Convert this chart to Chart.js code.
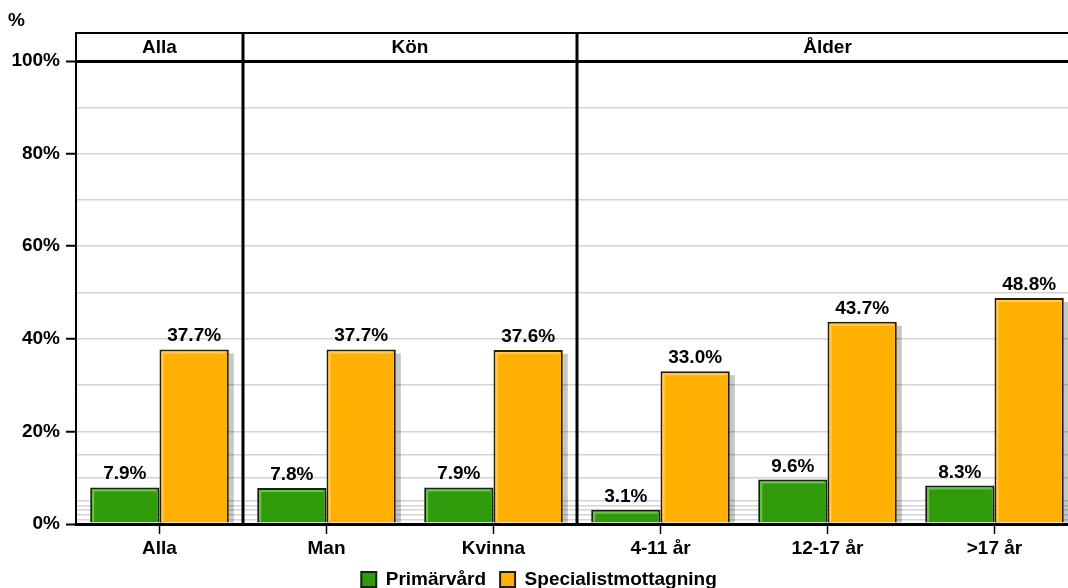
<!DOCTYPE html>
<html>
<head>
<meta charset="utf-8">
<script src="https://cdn.jsdelivr.net/npm/chart.js@4"></script>
<style>
  html, body { margin: 0; padding: 0; background: #fff; overflow: hidden; }
  #wrap { width: 1080px; height: 588px; position: relative; }
</style>
</head>
<body>
<div id="wrap"><canvas id="c" width="1080" height="588"></canvas></div>
<script>
// Categories and their header groups
const categories = ['Alla', 'Man', 'Kvinna', '4-11 år', '12-17 år', '>17 år'];
const groupNames = ['Alla', 'Kön', 'Ålder'];
const groupSizes = [1, 2, 3];

// Series values (%)
const seriesNames = ['Primärvård', 'Specialistmottagning'];
const primarvard = [7.9, 7.8, 7.9, 3.1, 9.6, 8.3];
const specialist = [37.7, 37.7, 37.6, 33.0, 43.7, 48.8];

// Y axis: grid positions and labelled ticks
const gridValues = [0, 1, 2, 3, 4, 5, 10, 15, 20, 30, 40, 50, 60, 70, 80, 90, 100];
const labelValues = [0, 20, 40, 60, 80, 100];

const FONT = "'Liberation Sans', Arial, sans-serif";
const FS = 19;
const boldFont = { family: FONT, size: FS, weight: 'bold' };
const canvasFont = 'bold ' + FS + 'px ' + FONT;

const colors = {
  green: '#2f9a0a', greenLight: '#6cc24a', greenEdge: '#10260a',
  orange: '#ffb000', orangeLight: '#ffcb55', orangeEdge: '#2a1e00'
};

// Soft drop shadow to the right of each bar
const barShadow = {
  id: 'barShadow',
  beforeDatasetsDraw(chart) {
    const ctx = chart.ctx;
    ctx.save();
    ctx.fillStyle = 'rgba(0,0,0,0.22)';
    chart.data.datasets.forEach((ds, di) => {
      chart.getDatasetMeta(di).data.forEach(bar => {
        const w = bar.width;
        ctx.fillRect(bar.x + w / 2, bar.y + 4, 5, bar.base - bar.y - 4);
      });
    });
    ctx.restore();
  }
};

// Inner highlight + value labels
const barDecor = {
  id: 'barDecor',
  afterDatasetsDraw(chart) {
    const ctx = chart.ctx;
    ctx.save();
    chart.data.datasets.forEach((ds, di) => {
      const light = di === 0 ? colors.greenLight : colors.orangeLight;
      chart.getDatasetMeta(di).data.forEach((bar, i) => {
        const w = bar.width;
        const l = bar.x - w / 2 + 3, r = bar.x + w / 2 - 3;
        const t = bar.y + 3, b = bar.base - 1;
        ctx.strokeStyle = light;
        ctx.lineWidth = 2;
        ctx.beginPath();
        ctx.moveTo(l, b); ctx.lineTo(l, t); ctx.lineTo(r, t);
        ctx.stroke();
        ctx.fillStyle = '#000';
        ctx.font = canvasFont;
        ctx.textAlign = 'center';
        ctx.textBaseline = 'alphabetic';
        ctx.fillText(ds.data[i].toFixed(1) + '%', bar.x, bar.y - 8);
      });
    });
    ctx.restore();
  }
};

// Group header band, dividers and the "%" unit label
const groupHeader = {
  id: 'groupHeader',
  afterDraw(chart) {
    const ctx = chart.ctx;
    const { top, bottom, left, right } = chart.chartArea;
    const xs = chart.scales.x;
    const headerTop = 33;
    ctx.save();
    ctx.strokeStyle = '#000';
    ctx.lineWidth = 2;
    ctx.beginPath();
    ctx.moveTo(left - 1, headerTop); ctx.lineTo(right, headerTop);
    ctx.moveTo(left, headerTop); ctx.lineTo(left, bottom);
    ctx.stroke();

    const edge = k => {
      if (k <= 0) return left;
      if (k >= categories.length) return right;
      return (xs.getPixelForValue(k - 1) + xs.getPixelForValue(k)) / 2;
    };
    let start = 0;
    ctx.font = canvasFont;
    ctx.fillStyle = '#000';
    ctx.textAlign = 'center';
    ctx.textBaseline = 'middle';
    groupNames.forEach((name, g) => {
      const end = start + groupSizes[g];
      const x0 = edge(start), x1 = edge(end);
      if (end < categories.length) {
        ctx.lineWidth = 3;
        ctx.beginPath();
        ctx.moveTo(x1, headerTop); ctx.lineTo(x1, bottom);
        ctx.stroke();
      }
      ctx.fillText(name, (x0 + x1) / 2, (headerTop + top) / 2 + 1);
      start = end;
    });

    ctx.textAlign = 'left';
    ctx.fillText('%', 8, 21);
    ctx.restore();
  }
};

new Chart(document.getElementById('c'), {
  type: 'bar',
  data: {
    labels: categories,
    datasets: [
      { label: seriesNames[0], data: primarvard, backgroundColor: colors.green,
        borderColor: colors.greenEdge, borderWidth: 2 },
      { label: seriesNames[1], data: specialist, backgroundColor: colors.orange,
        borderColor: colors.orangeEdge, borderWidth: 2 }
    ]
  },
  options: {
    responsive: false,
    animation: false,
    devicePixelRatio: 1,
    categoryPercentage: 0.83,
    barPercentage: 1.0,
    layout: { padding: { top: 61, right: 2, left: 0, bottom: -11 } },
    plugins: {
      legend: {
        position: 'bottom',
        labels: { font: boldFont, color: '#000', boxWidth: 15, boxHeight: 15, padding: 14 }
      },
      tooltip: { enabled: false }
    },
    scales: {
      x: {
        offset: true,
        afterFit: s => { s.height = 32; },
        grid: { offset: false, drawOnChartArea: false, drawTicks: true, tickLength: 10,
                tickColor: '#000', tickWidth: 1.5 },
        border: { display: false },
        ticks: { font: boldFont, color: '#000', padding: 3, maxRotation: 0 }
      },
      y: {
        min: 0, max: 100,
        afterBuildTicks: s => { s.ticks = gridValues.map(v => ({ value: v })); },
        afterFit: s => { s.width = 76; },
        ticks: {
          autoSkip: false, font: boldFont, color: '#000', padding: 6,
          callback: v => labelValues.includes(v) ? v + '%' : ''
        },
        grid: {
          color: c => (c.tick && (c.tick.value === 0 || c.tick.value === 100)) ? '#000' : '#d4d4d4',
          lineWidth: c => (c.tick && (c.tick.value === 0 || c.tick.value === 100)) ? 3 : 1.5,
          tickColor: c => (c.tick && labelValues.includes(c.tick.value)) ? '#000' : 'rgba(0,0,0,0)',
          tickLength: 10,
          tickWidth: 2
        },
        border: { display: true, color: '#000', width: 2 }
      }
    }
  },
  plugins: [barShadow, barDecor, groupHeader]
});
</script>
</body>
</html>
